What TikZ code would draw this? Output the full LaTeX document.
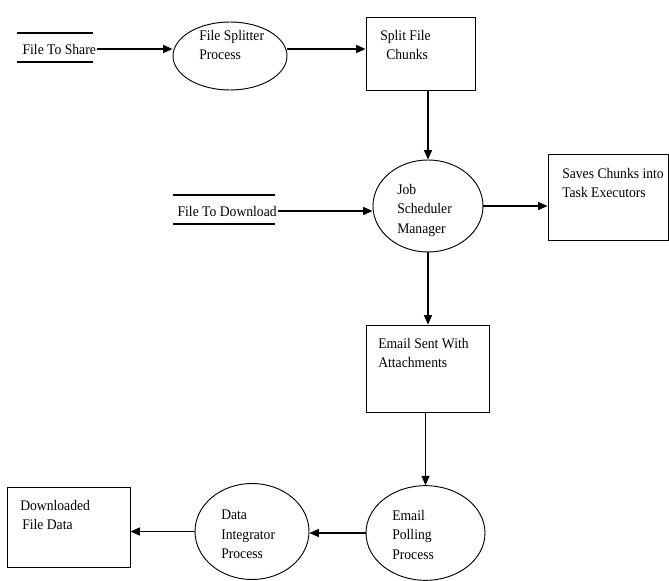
\documentclass[tikz,border=0pt]{standalone}
\usepackage{fontspec}
\setmainfont{Liberation Serif}[FakeStretch=0.93]
\usetikzlibrary{arrows.meta,shapes.geometric}

\def\unit{0.75pt}

\begin{document}
\begin{tikzpicture}[x=\unit,y=-\unit,>={Triangle[length=7pt,width=6pt]},
    font=\fontsize{11pt}{14.5pt}\selectfont]
    \tikzstyle{process}=[ellipse,draw,line width=0.7pt,inner sep=0pt]
    \tikzstyle{entity}=[rectangle,draw,line width=0.7pt,inner sep=0pt]
    \tikzstyle{store}=[inner sep=1pt]
    \tikzstyle{annot}=[anchor=north west,align=left,inner sep=0pt]
    \tikzstyle{flow}=[->,line width=0.9pt]

    \useasboundingbox (0,0) rectangle (669,581);

    % Draw the data stores
    \node[store, anchor=west] (share) at (21,49) {File To Share};
    \node[store, anchor=west] (download) at (176,211) {File To Download};
    \foreach \y in {33,62}
        \draw[line width=0.8pt] (17,\y) -- (93,\y);
    \foreach \y in {195,224}
        \draw[line width=0.8pt] (173,\y) -- (275,\y);

    % Draw the processes
    \node[process, minimum width=85.5pt, minimum height=51pt] (splitter) at (230,56) {};
    \node[process, minimum width=82.5pt, minimum height=69pt] (job) at (428,206) {};
    \node[process, minimum width=89.25pt, minimum height=71pt] (polling) at (425.5,533) {};
    \node[process, minimum width=85.5pt, minimum height=72pt] (integrator) at (252,531.5) {};

    % Draw the entities
    \node[entity, minimum width=81.75pt, minimum height=54.75pt] (chunks) at (420.5,53.5) {};
    \node[entity, minimum width=90pt, minimum height=64.5pt] (saves) at (608,197) {};
    \node[entity, minimum width=92.25pt, minimum height=65.25pt] (email) at (427.5,368.5) {};
    \node[entity, minimum width=92.25pt, minimum height=60pt] (downloaded) at (68.5,527) {};

    % Annotate the shapes
    \node[annot] at ([shift={(-31,-26)}]splitter.center) {File Splitter\\Process};
    \node[annot] at ([shift={(-40.5,-23.5)}]chunks.center) {Split File\\\hspace{4.5pt}Chunks};
    \node[annot] at ([shift={(-31,-22)}]job.center) {Job\\Scheduler\\Manager};
    \node[annot] at ([shift={(-46,-29)}]saves.center) {Saves Chunks into\\Task Executors};
    \node[annot] at ([shift={(-49.5,-30.5)}]email.center) {Email Sent With\\Attachments};
    \node[annot] at ([shift={(-33.5,-23)}]polling.center) {Email\\Polling\\Process};
    \node[annot] at ([shift={(-31,-21.5)}]integrator.center) {Data\\Integrator\\Process};
    \node[annot] at ([shift={(-48.5,-27)}]downloaded.center) {Downloaded\\\hspace{1.5pt}File Data};

    % Connect the shapes
    \draw[flow] (share.east) -- (share.east -| splitter.west);
    \draw[flow] (splitter.east |- share.east) -- (chunks.west |- share.east);
    \draw[flow] (job.north |- chunks.south) -- (job.north);
    \draw[flow] (download.east) -- (download.east -| job.west);
    \draw[flow] (job.east) -- (saves.west |- job.east);
    \draw[flow] (job.south) -- (job.south |- email.north);
    \draw[flow] (polling.north |- email.south) -- (polling.north);
    \draw[flow] (polling.west) -- (polling.west -| integrator.east);
    \draw[flow] (integrator.west) -- (integrator.west -| downloaded.east);
\end{tikzpicture}
\end{document}
